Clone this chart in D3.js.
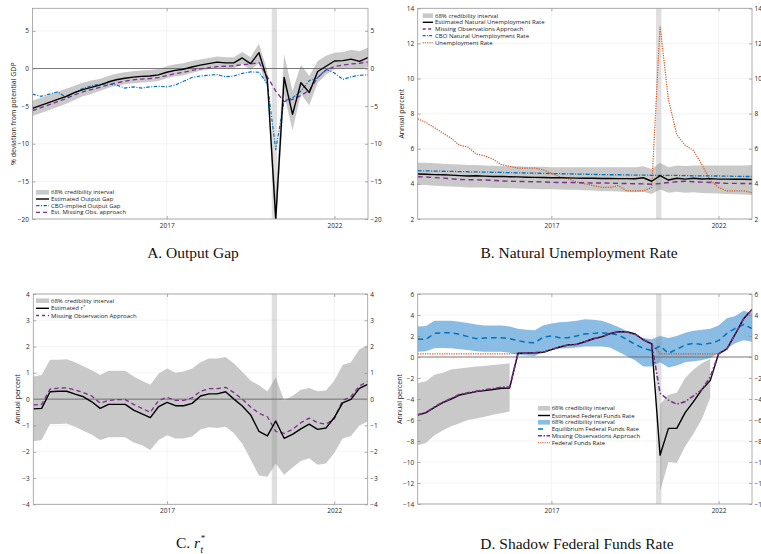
<!DOCTYPE html>
<html><head><meta charset="utf-8">
<script src="https://cdn.jsdelivr.net/npm/d3@7"></script>
<style>
body{margin:0;background:#fff;}
svg{display:block;background:#fff;}
</style></head><body>
<svg id="chart" width="761" height="554"></svg>
<script>
// ---------------- DATA ----------------
const quarters = ["2013Q1","2013Q2","2013Q3","2013Q4","2014Q1","2014Q2","2014Q3","2014Q4",
"2015Q1","2015Q2","2015Q3","2015Q4","2016Q1","2016Q2","2016Q3","2016Q4",
"2017Q1","2017Q2","2017Q3","2017Q4","2018Q1","2018Q2","2018Q3","2018Q4",
"2019Q1","2019Q2","2019Q3","2019Q4","2020Q1","2020Q2","2020Q3","2020Q4",
"2021Q1","2021Q2","2021Q3","2021Q4","2022Q1","2022Q2","2022Q3","2022Q4","2023Q1"];
const xTickYears = [2017, 2022];
const recession = [2020.13, 2020.29];

// Panel A: Output gap
const gapEst  = [-5.3,-4.9,-4.5,-4.1,-3.7,-3.2,-2.8,-2.5,-2.2,-1.8,-1.5,-1.3,-1.15,-1.05,-1.0,-0.85,-0.5,-0.25,-0.1,0.2,0.45,0.65,0.85,0.75,0.75,1.4,0.65,2.1,-1.5,-20,-1.2,-6.1,-1.9,-3.2,-0.4,0.3,1.0,1.05,1.25,0.95,1.45];
const gapHi   = [-4.3,-3.9,-3.5,-3.1,-2.7,-2.3,-1.9,-1.6,-1.4,-1.0,-0.7,-0.5,-0.35,-0.25,-0.2,-0.05,0.3,0.55,0.7,1.0,1.2,1.4,1.6,1.5,1.5,2.2,1.5,3.3,-0.3,-17,1.9,-3.0,0.5,-1.0,1.0,1.7,2.1,2.2,2.5,2.3,2.8];
const gapLo   = [-6.3,-5.9,-5.5,-5.1,-4.7,-4.2,-3.7,-3.4,-3.0,-2.6,-2.3,-2.1,-1.95,-1.85,-1.8,-1.65,-1.3,-1.05,-0.9,-0.6,-0.3,-0.1,0.1,0.0,0.0,0.6,-0.2,0.7,-2.7,-22,-3.5,-8.2,-3.4,-4.9,-1.9,-0.8,-0.1,0.0,0.1,-0.1,0.2];
const gapCBO  = [-3.4,-3.7,-3.4,-3.1,-3.85,-3.2,-2.65,-2.3,-2.1,-2.05,-2.2,-2.6,-2.45,-2.6,-2.45,-2.35,-2.45,-2.2,-1.7,-1.2,-1.0,-0.9,-0.8,-1.1,-1.0,-0.65,-0.45,-0.5,-2.0,-10.8,-4.3,-3.9,-3.0,-1.6,-1.25,-0.1,-0.6,-1.45,-1.1,-0.9,-0.85];
const gapMiss = [-5.6,-5.2,-4.8,-4.4,-4.0,-3.5,-3.1,-2.8,-2.5,-2.2,-1.9,-1.7,-1.5,-1.4,-1.35,-1.2,-0.95,-0.7,-0.5,-0.25,-0.05,0.1,0.25,0.3,0.35,0.5,0.6,0.8,-1.1,-3.0,-4.4,-4.1,-3.6,-2.9,-1.2,-0.2,0.25,0.45,0.6,0.7,0.85];
const gapTicks = [-20,-15,-10,-5,0,5];

// Panel B: Natural unemployment rate
const unrate  = [7.7,7.5,7.2,6.9,6.6,6.2,6.1,5.7,5.6,5.4,5.1,5.0,4.9,4.9,4.9,4.8,4.6,4.4,4.3,4.1,4.0,3.9,3.8,3.8,3.9,3.6,3.6,3.6,3.8,13.0,8.8,6.8,6.2,5.9,5.1,4.2,3.8,3.6,3.6,3.6,3.5];
const natEst  = [4.56,4.55,4.53,4.52,4.5,4.47,4.45,4.46,4.44,4.42,4.43,4.41,4.4,4.38,4.37,4.36,4.35,4.35,4.34,4.33,4.32,4.32,4.31,4.31,4.3,4.3,4.29,4.35,4.15,4.47,4.22,4.32,4.27,4.32,4.28,4.3,4.27,4.27,4.26,4.26,4.25];
const natHi   = [5.2,5.2,5.18,5.15,5.12,5.1,5.08,5.07,5.05,5.03,5.02,5.0,5.0,4.98,4.97,4.97,4.95,4.95,4.95,4.95,4.95,4.95,4.95,4.95,4.95,4.95,4.95,5.0,4.85,5.2,4.95,5.05,5.02,5.05,5.05,5.05,5.05,5.05,5.05,5.05,5.07];
const natLo   = [3.95,3.93,3.9,3.87,3.85,3.83,3.8,3.8,3.79,3.77,3.76,3.75,3.74,3.72,3.71,3.7,3.7,3.68,3.67,3.66,3.64,3.62,3.6,3.58,3.56,3.54,3.52,3.55,3.42,3.7,3.5,3.55,3.5,3.52,3.48,3.47,3.45,3.43,3.41,3.39,3.37];
const natMiss = [4.41,4.39,4.36,4.33,4.29,4.25,4.24,4.23,4.22,4.2,4.17,4.15,4.14,4.13,4.12,4.11,4.09,4.08,4.08,4.07,4.06,4.05,4.05,4.04,4.03,4.02,4.01,4.0,3.98,4.02,4.08,4.12,4.15,4.12,4.1,4.08,4.05,4.03,4.03,4.02,4.02];
const natCBO  = [4.75,4.74,4.73,4.72,4.71,4.7,4.69,4.68,4.67,4.66,4.65,4.64,4.63,4.62,4.61,4.6,4.59,4.58,4.57,4.56,4.55,4.54,4.53,4.52,4.52,4.51,4.5,4.5,4.49,4.49,4.48,4.48,4.47,4.46,4.46,4.45,4.45,4.44,4.43,4.42,4.42];
const natTicks = [2,4,6,8,10,12,14];

// Panel C: r*
const rEst  = [-0.37,-0.35,0.28,0.3,0.3,0.19,0.09,-0.1,-0.35,-0.2,-0.2,-0.2,-0.42,-0.56,-0.7,-0.28,-0.12,-0.25,-0.25,-0.16,0.12,0.2,0.2,0.28,0.0,-0.26,-0.6,-1.23,-1.4,-0.83,-1.49,-1.34,-1.13,-0.95,-1.15,-1.1,-0.7,-0.14,-0.01,0.41,0.56];
const rMiss = [-0.22,-0.2,0.38,0.42,0.43,0.35,0.25,0.12,-0.15,-0.05,-0.02,-0.02,-0.2,-0.35,-0.5,-0.05,0.07,-0.05,-0.05,0.05,0.3,0.4,0.4,0.45,0.25,0.0,-0.3,-0.54,-0.67,-1.23,-1.3,-1.15,-0.9,-0.72,-0.9,-0.95,-0.75,-0.05,0.1,0.5,0.67];
const rHi   = [0.86,0.92,1.5,1.5,1.52,1.4,1.25,1.1,0.92,1.08,1.08,1.08,0.86,0.7,0.55,0.98,1.17,1.0,1.05,1.17,1.4,1.55,1.55,1.6,1.36,1.04,0.7,0.53,0.29,0.83,-0.05,0.12,0.36,0.42,0.3,0.33,0.7,1.3,1.4,1.9,2.05];
const rLo   = [-1.6,-1.55,-0.95,-0.95,-0.93,-1.05,-1.2,-1.35,-1.55,-1.45,-1.45,-1.45,-1.65,-1.75,-1.93,-1.55,-1.37,-1.5,-1.5,-1.42,-1.15,-1.07,-1.1,-1.05,-1.3,-1.7,-2.3,-2.9,-2.95,-2.45,-2.88,-2.6,-2.35,-2.25,-2.5,-2.45,-2.05,-1.5,-1.4,-1.0,-0.85];
const rTicks = [-4,-3,-2,-1,0,1,2,3,4];

// Panel D: Shadow federal funds rate
const ffrEst  = [-5.52,-5.3,-4.8,-4.35,-4.0,-3.62,-3.46,-3.3,-3.2,-3.1,-2.98,-2.95,0.36,0.37,0.4,0.45,0.7,0.95,1.15,1.2,1.45,1.74,1.92,2.22,2.4,2.4,2.19,1.64,1.26,-9.35,-6.8,-6.8,-5.3,-4.25,-3.1,-2.25,0.3,0.77,2.19,3.65,4.52];
const ffrMiss = [-5.5,-5.28,-4.75,-4.3,-3.95,-3.55,-3.4,-3.25,-3.12,-3.0,-2.88,-2.85,0.36,0.37,0.4,0.45,0.7,0.95,1.15,1.2,1.45,1.74,1.92,2.22,2.4,2.4,2.19,1.64,1.26,-3.45,-4.1,-4.5,-4.25,-3.7,-3.1,-1.9,0.3,0.77,2.19,3.65,4.52];
const ffr     = [0.3,0.3,0.3,0.3,0.3,0.3,0.3,0.3,0.3,0.3,0.3,0.3,0.36,0.37,0.4,0.45,0.7,0.95,1.15,1.2,1.45,1.74,1.92,2.22,2.4,2.4,2.19,1.64,1.26,0.3,0.3,0.3,0.3,0.3,0.3,0.3,0.3,0.77,2.19,3.65,4.52];
const ffrHi   = [-2.5,-2.3,-1.7,-1.5,-1.2,-1.1,-1.0,-0.9,-0.85,-0.75,-0.7,-0.6,null,null,null,null,null,null,null,null,null,null,null,null,null,null,null,null,null,-4.5,-3.6,-3.4,-2.0,-1.2,-0.6,-0.2,null,null,null,null,null];
const ffrLo   = [-8.4,-8.2,-7.45,-7.0,-6.6,-6.3,-6.0,-5.85,-5.7,-5.5,-5.35,-5.2,null,null,null,null,null,null,null,null,null,null,null,null,null,null,null,null,null,-12.8,-10.0,-10.1,-8.5,-7.3,-5.9,-3.9,null,null,null,null,null];
const eqFFR   = [1.71,1.68,2.25,2.3,2.3,2.15,1.94,1.75,1.8,1.84,1.84,1.75,1.56,1.4,1.35,1.9,2.0,1.84,1.84,2.0,2.2,2.25,2.3,2.25,2.1,1.68,1.2,0.83,0.6,1.05,0.35,0.73,1.14,1.3,1.2,1.3,1.56,2.25,2.73,3.1,2.7];
const eqHi    = [2.9,2.95,3.45,3.45,3.45,3.35,3.25,3.1,3.0,3.0,3.0,2.9,2.7,2.6,2.55,3.0,3.2,3.3,3.35,3.45,3.6,3.55,3.45,3.2,2.85,2.5,2.1,1.8,1.7,2.0,1.8,2.0,2.3,2.5,2.6,2.7,3.0,3.7,3.9,4.4,4.2];
const eqLo    = [0.5,0.55,0.83,0.85,0.83,0.75,0.66,0.55,0.5,0.5,0.5,0.4,0.19,0.15,0.1,0.5,0.75,0.8,0.83,0.9,1.0,1.0,1.0,0.9,0.5,0.1,-0.3,-0.9,-0.9,-0.5,-1.0,-0.8,-0.5,-0.4,-0.3,-0.1,0.35,0.83,1.3,1.6,1.45];
const ffTicks = [-14,-12,-10,-8,-6,-4,-2,0,2,4,6];

// ---------------- STYLE ----------------
const SANS = "'Open Sans','Noto Sans',sans-serif";
const SERIF = "'Liberation Serif','DejaVu Serif',serif";
const C = {black:"#000000", blue:"#0072BD", purple:"#7E2F8E", orange:"#D95319", band:"#c9c9c9", blueBand:"#8bbce4"};

const svg = d3.select("#chart");
const tq = quarters.map(q => +q.slice(0,4) + (+q.slice(5) - 1) / 4);

function styleAxis(sel, fs) {
  sel.select(".domain").remove();
  sel.selectAll("line").attr("stroke", "#8a8a8a").attr("stroke-width", 0.7);
  sel.selectAll("text").attr("font-size", fs || "6.5px").attr("font-family", SANS).attr("fill", "#262626");
}

function drawPanel(p) {
  const g = svg.append("g");
  const x = d3.scaleLinear().domain([2013, 2023]).range([p.left, p.right]);
  const y = d3.scaleLinear().domain(p.yDomain).range([p.bottom, p.top]);
  const w = p.right - p.left, h = p.bottom - p.top;
  const clipId = "clip" + p.id;
  svg.append("clipPath").attr("id", clipId).append("rect")
    .attr("x", p.left).attr("y", p.top).attr("width", w).attr("height", h);

  // grid
  g.append("g").selectAll("line").data(p.yTicks).join("line")
    .attr("x1", p.left).attr("x2", p.right).attr("y1", d => y(d)).attr("y2", d => y(d))
    .attr("stroke", "#ececec").attr("stroke-width", 0.6);
  g.append("g").selectAll("line").data(xTickYears).join("line")
    .attr("x1", d => x(d)).attr("x2", d => x(d)).attr("y1", p.top).attr("y2", p.bottom)
    .attr("stroke", "#ececec").attr("stroke-width", 0.6);

  const plot = g.append("g").attr("clip-path", `url(#${clipId})`);
  p.bands.forEach(b => {
    const area = d3.area()
      .defined((d, i) => b.lo[i] != null && b.hi[i] != null)
      .x(d => x(d)).y0((d, i) => y(b.lo[i])).y1((d, i) => y(b.hi[i]));
    plot.append("path").datum(tq).attr("d", area).attr("fill", b.fill).attr("stroke", "none");
  });
  plot.append("rect")
    .attr("x", x(recession[0])).attr("width", x(recession[1]) - x(recession[0]))
    .attr("y", p.top).attr("height", h).attr("fill", "#8c8c8c").attr("opacity", 0.28);
  if (p.zero) {
    plot.append("line").attr("x1", p.left).attr("x2", p.right).attr("y1", y(0)).attr("y2", y(0))
      .attr("stroke", "#5a5a5a").attr("stroke-width", 0.8);
  }
  p.lines.forEach(l => {
    const line = d3.line().defined((d, i) => l.values[i] != null)
      .x(d => x(d)).y((d, i) => y(l.values[i]));
    plot.append("path").datum(tq).attr("d", line).attr("fill", "none")
      .attr("stroke", l.color).attr("stroke-width", l.width)
      .attr("stroke-dasharray", l.dash || null).attr("stroke-linejoin", "round");
  });

  // axes
  g.append("g").attr("transform", `translate(${p.left},0)`)
    .call(d3.axisLeft(y).tickValues(p.yTicks).tickSize(-3).tickPadding(3.5).tickFormat(d3.format("d")))
    .call(styleAxis);
  g.append("g").attr("transform", `translate(${p.right},0)`)
    .call(d3.axisRight(y).tickValues(p.yTicks).tickSize(-3).tickPadding(2.5).tickFormat(d3.format("d")))
    .call(styleAxis);
  g.append("g").attr("transform", `translate(0,${p.bottom})`)
    .call(d3.axisBottom(x).tickValues(xTickYears).tickSize(-3).tickPadding(4).tickFormat(d3.format("d")))
    .call(styleAxis);
  g.append("g").attr("transform", `translate(0,${p.top})`)
    .call(d3.axisTop(x).tickValues(xTickYears).tickSize(-3).tickFormat(""))
    .call(styleAxis);
  g.append("rect").attr("x", p.left).attr("y", p.top).attr("width", w).attr("height", h)
    .attr("fill", "none").attr("stroke", "#9a9a9a").attr("stroke-width", 0.8);

  // y label
  g.append("text").attr("transform", `translate(${p.ylabelX},${(p.top + p.bottom) / 2}) rotate(-90)`)
    .attr("text-anchor", "middle").attr("font-family", SANS).attr("font-size", "7px")
    .attr("fill", "#1a1a1a").text(p.ylabel);

  // legend
  const lg = g.append("g");
  p.legend.items.forEach((it, k) => {
    const yy = p.legend.ys[k];
    if (it.type === "band") {
      lg.append("rect").attr("x", p.legend.sx0).attr("y", yy - 2.3)
        .attr("width", p.legend.sx1 - p.legend.sx0).attr("height", 4.6).attr("fill", it.fill);
    } else {
      lg.append("line").attr("x1", p.legend.sx0).attr("x2", p.legend.sx1).attr("y1", yy).attr("y2", yy)
        .attr("stroke", it.color).attr("stroke-width", it.width).attr("stroke-dasharray", it.dash || null);
    }
    const t = lg.append("text").attr("x", p.legend.tx).attr("y", yy + 2)
      .attr("font-family", SANS).attr("font-size", "6px").attr("fill", "#1a1a1a");
    t.append("tspan").text(it.label);
    if (it.sup) t.append("tspan").attr("dy", -2.2).attr("font-size", "4px").text(it.sup);
  });

  return {x, y};
}

const L_BLACK = {type: "line", color: C.black, width: 1.4};

// Panel A
drawPanel({
  id: "A", left: 32.5, right: 368, top: 8.3, bottom: 219, yDomain: [-20, 8], yTicks: gapTicks, zero: true,
  ylabel: "% deviation from potential GDP", ylabelX: 16,
  bands: [{lo: gapLo, hi: gapHi, fill: C.band}],
  lines: [
    {values: gapCBO, color: C.blue, width: 1.2, dash: "3.5,1.5,1,1.5"},
    {values: gapMiss, color: C.purple, width: 1.3, dash: "4.5,3"},
    {values: gapEst, color: C.black, width: 1.4}
  ],
  legend: {sx0: 36, sx1: 49, tx: 51, ys: [192.3, 199, 205.7, 212.3], items: [
    {type: "band", fill: C.band, label: "68% credibility interval"},
    {...L_BLACK, label: "Estimated Output Gap"},
    {type: "line", color: C.blue, width: 1.3, dash: "3.5,1.5,1,1.5", label: "CBO-implied Output Gap"},
    {type: "line", color: C.purple, width: 1.3, dash: "4,3", label: "Est. Missing Obs. approach"}
  ]}
});

// Panel B
drawPanel({
  id: "B", left: 417.7, right: 752, top: 8.3, bottom: 219, yDomain: [2, 14], yTicks: natTicks, zero: false,
  ylabel: "Annual percent", ylabelX: 403.5,
  bands: [{lo: natLo, hi: natHi, fill: C.band}],
  lines: [
    {values: unrate, color: C.orange, width: 1.2, dash: "1.2,1.2"},
    {values: natCBO, color: C.blue, width: 1.3, dash: "4,1.5,1,1.5"},
    {values: natMiss, color: C.purple, width: 1.4, dash: "5,3.5"},
    {values: natEst, color: C.black, width: 1.4}
  ],
  legend: {sx0: 422.7, sx1: 433, tx: 435, ys: [15.7, 22.3, 29, 35.7, 42.7], items: [
    {type: "band", fill: C.band, label: "68% credibility interval"},
    {...L_BLACK, label: "Estimated Natural Unemployment Rate"},
    {type: "line", color: C.purple, width: 1.4, dash: "3,2.5", label: "Missing Observations Approach"},
    {type: "line", color: C.blue, width: 1.3, dash: "3,1.2,1,1.2", label: "CBO Natural Unemployment Rate"},
    {type: "line", color: C.orange, width: 1.1, dash: "1.2,1", label: "Unemployment Rate"}
  ]}
});

// Panel C
drawPanel({
  id: "C", left: 33.3, right: 367.7, top: 294, bottom: 504.3, yDomain: [-4, 4], yTicks: rTicks, zero: true,
  ylabel: "Annual percent", ylabelX: 20,
  bands: [{lo: rLo, hi: rHi, fill: C.band}],
  lines: [
    {values: rMiss, color: C.purple, width: 1.3, dash: "4.5,3"},
    {values: rEst, color: C.black, width: 1.4}
  ],
  legend: {sx0: 36, sx1: 49, tx: 51, ys: [300.7, 308.3, 315.5], items: [
    {type: "band", fill: C.band, label: "68% credibility interval"},
    {...L_BLACK, label: "Estimated r", sup: "*"},
    {type: "line", color: C.purple, width: 1.3, dash: "3,3", label: "Missing Observation Approach"}
  ]}
});

// Panel D
drawPanel({
  id: "D", left: 417.7, right: 752, top: 294, bottom: 504, yDomain: [-14, 6], yTicks: ffTicks, zero: true,
  ylabel: "Annual percent", ylabelX: 402,
  bands: [{lo: eqLo, hi: eqHi, fill: C.blueBand}, {lo: ffrLo, hi: ffrHi, fill: C.band}],
  lines: [
    {values: ffr, color: C.orange, width: 1.2, dash: "1.2,1.2"},
    {values: eqFFR, color: C.blue, width: 1.5, dash: "5.5,4"},
    {values: ffrEst, color: C.black, width: 1.4},
    {values: ffrMiss, color: C.purple, width: 1.6, dash: "5,2,1.5,2"}
  ],
  legend: {sx0: 538, sx1: 550, tx: 551.7, ys: [408.3, 415.5, 422.3, 429, 435.7, 442.7], items: [
    {type: "band", fill: C.band, label: "68% credibility interval"},
    {...L_BLACK, label: "Estimated Federal Funds Rate"},
    {type: "band", fill: C.blueBand, label: "68% credibility interval"},
    {type: "line", color: C.blue, width: 1.5, dash: "5,7", label: "Equilibrium Federal Funds Rate"},
    {type: "line", color: C.purple, width: 1.6, dash: "4,1.5,1.5,1.5", label: "Missing Observations Approach"},
    {type: "line", color: C.orange, width: 1.1, dash: "1.2,1", label: "Federal Funds Rate"}
  ]}
});

// ---------------- TITLES ----------------
function title(txt, cx, base) {
  svg.append("text").attr("x", cx).attr("y", base).attr("text-anchor", "middle")
    .attr("font-family", SERIF).attr("font-size", "15.5px").attr("fill", "#111").text(txt);
}
title("A. Output Gap", 193, 258);
title("B. Natural Unemployment Rate", 579, 258);
title("D. Shadow Federal Funds Rate", 577, 549);
// C. r_t^*  (subscript t and superscript * stacked after the italic r)
const tc = svg.append("text").attr("x", 176).attr("y", 548)
  .attr("font-family", SERIF).attr("font-size", "15.5px").attr("fill", "#111");
tc.append("tspan").text("C. ");
tc.append("tspan").attr("font-style", "italic").text("r");
const tcLen = tc.node().getComputedTextLength();
svg.append("text").attr("x", 176 + tcLen + 0.5).attr("y", 541).attr("font-family", SERIF)
  .attr("font-size", "9px").attr("fill", "#111").text("*");
svg.append("text").attr("x", 176 + tcLen + 0.3).attr("y", 552.5).attr("font-family", SERIF)
  .attr("font-style", "italic").attr("font-size", "9.5px").attr("fill", "#111").text("t");
</script></body></html>
